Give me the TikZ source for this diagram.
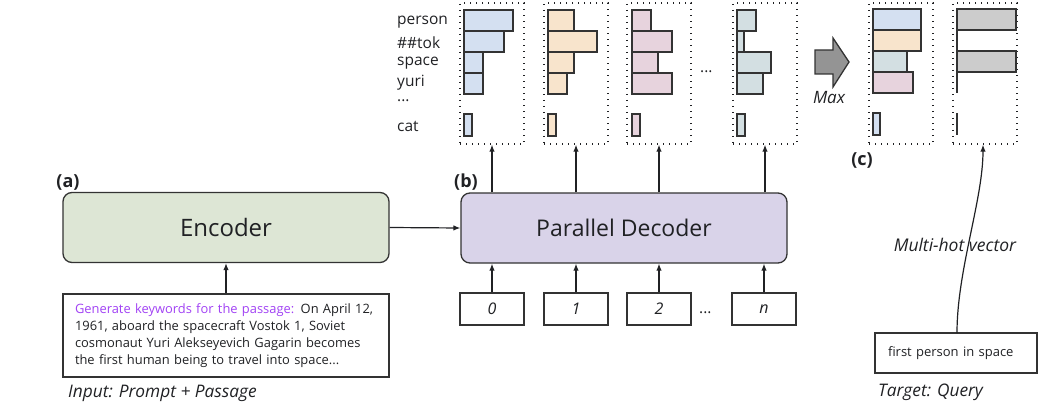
\documentclass[tikz,border=0pt]{standalone}
\usepackage{fontspec}
\setmainfont{Open Sans}
\usetikzlibrary{arrows.meta}
\definecolor{cblue}{HTML}{D4E0F1}
\definecolor{corange}{HTML}{F8E4CC}
\definecolor{cpink}{HTML}{E7D3DD}
\definecolor{cgb}{HTML}{D3DFE2}
\definecolor{cgray}{HTML}{CCCCCC}
\definecolor{cgreen}{HTML}{DDE6D5}
\definecolor{clav}{HTML}{D9D3E9}
\definecolor{cpurple}{HTML}{A142F4}
\definecolor{ctext}{HTML}{202124}
\definecolor{cedge}{HTML}{333333}
\tikzset{
  hbarr/.style={draw=cedge, line width=1.6pt},
  colbox/.style={draw=ctext, line width=1.4pt, dash pattern=on 1.4pt off 4.6pt, minimum width=64pt, minimum height=141pt, inner sep=0pt},
  mainbox/.style={draw=cedge, line width=1.3pt, rounded corners=9pt, minimum width=326pt, minimum height=70pt, text=ctext},
  numbox/.style={draw=cedge, line width=1.2pt, minimum width=64pt, minimum height=32pt, font=\fontsize{16}{18}\selectfont\itshape, text=ctext},
  arr/.style={-{Latex[length=7pt,width=5.5pt]}, line width=1.2pt, draw=ctext},
  tok/.style={anchor=west, font=\fontsize{15.5}{18}\selectfont, text=ctext, inner sep=0pt},
  lab/.style={font=\fontsize{18}{20}\selectfont\bfseries, text=ctext, inner sep=0pt},
  capt/.style={anchor=west, font=\fontsize{17.3}{19}\selectfont\itshape, text=ctext, inner sep=0pt}
}
\begin{document}
\begin{tikzpicture}[x=1pt,y=-1pt]
\useasboundingbox (0,0) rectangle (1061,420);
% token labels
\node[tok] (t1) at (397,22) {person};
\node[tok] (t2) at (397,43) {\#\#tok};
\node[tok] (t3) at (397,63) {space};
\node[tok] (t4) at (397,83) {yuri};
\node[tok] (t5) at (397,101) {...};
\node[tok] (t6) at (397,126) {cat};
% column boxes
\node[colbox] (c1) at (492,73.5) {};
\node[colbox] (c2) at (576,73.5) {};
\node[colbox] (c3) at (659,73.5) {};
\node[colbox] (c4) at (765,73.5) {};
\node[colbox] (cm) at (901,73.5) {};
\node[colbox] (ch) at (985,73.5) {};
% column 1
\draw[hbarr, fill=cblue] (464,10) rectangle (513,31);
\draw[hbarr, fill=cblue] (464,31) rectangle (504,52);
\draw[hbarr, fill=cblue] (464,52) rectangle (483,73);
\draw[hbarr, fill=cblue] (464,73) rectangle (483,94);
\draw[hbarr, fill=cblue] (464,114) rectangle (472,136);
% column 2
\draw[hbarr, fill=corange] (548,10) rectangle (574,31);
\draw[hbarr, fill=corange] (548,31) rectangle (597,52);
\draw[hbarr, fill=corange] (548,52) rectangle (574,73);
\draw[hbarr, fill=corange] (548,73) rectangle (567,94);
\draw[hbarr, fill=corange] (548,114) rectangle (556,136);
% column 3
\draw[hbarr, fill=cpink] (632,10) rectangle (651,31);
\draw[hbarr, fill=cpink] (632,31) rectangle (672,52);
\draw[hbarr, fill=cpink] (632,52) rectangle (658,73);
\draw[hbarr, fill=cpink] (632,73) rectangle (672,94);
\draw[hbarr, fill=cpink] (632,114) rectangle (640,136);
% dots
\node[tok] (dd) at (700,72) {...};
% column 4
\draw[hbarr, fill=cgb] (737,10) rectangle (756,31);
\draw[hbarr, fill=cgb] (737,31) rectangle (744,52);
\draw[hbarr, fill=cgb] (737,52) rectangle (771,73);
\draw[hbarr, fill=cgb] (737,73) rectangle (763,94);
\draw[hbarr, fill=cgb] (737,114) rectangle (745,136);
% max arrow
\draw[draw=cedge, line width=1.3pt, fill=black!42] (815,50) -- (833,50) -- (833,38) -- (849,62) -- (833,87) -- (833,74) -- (815,74) -- cycle;
\node[font=\fontsize{17}{18}\selectfont\itshape, text=ctext] (mx) at (829,98) {Max};
% max column
\draw[hbarr, fill=cblue] (873,9) rectangle (921,30);
\draw[hbarr, fill=corange] (873,30) rectangle (921,51);
\draw[hbarr, fill=cgb] (873,51) rectangle (907,72);
\draw[hbarr, fill=cpink] (873,72) rectangle (913,93);
\draw[hbarr, fill=cblue] (873,113) rectangle (880,135);
% multi-hot column
\draw[hbarr] (957,30) -- (957,93);
\draw[hbarr, fill=cgray] (957,9) rectangle (1016,30);
\draw[hbarr, fill=cgray] (957,51) rectangle (1016,72);
\draw[hbarr] (957,113) -- (957,135);
% labels
\node[lab] (la) at (68,182) {(a)};
\node[lab] (lb) at (466,182) {(b)};
\node[lab] (lc) at (862,160) {(c)};
% main boxes
\node[mainbox, fill=cgreen, font=\fontsize{24}{26}\selectfont] (enc) at (226,227.5) {Encoder};
\node[mainbox, fill=clav, font=\fontsize{23}{26}\selectfont] (dec) at (624,228) {Parallel Decoder};
% passage
\node[draw=cedge, line width=1.3pt, minimum width=326pt, minimum height=83pt, text width=302pt, align=left, inner xsep=12pt, font=\fontsize{12.9}{17}\selectfont, text=ctext] (pas) at (226,335.5)
{\textcolor{cpurple}{Generate keywords for the passage:} On April 12,\\1961, aboard the spacecraft Vostok 1, Soviet\\cosmonaut Yuri Alekseyevich Gagarin becomes\\the first human being to travel into space...};
\node[capt] (inp) at (68,393) {Input: Prompt + Passage};
% number boxes
\node[numbox] (n0) at (492,309) {0};
\node[numbox] (n1) at (576,309) {1};
\node[numbox] (n2) at (659,309) {2};
\node[numbox] (nn) at (764,309) {n};
\node[tok] (d2) at (699,313) {...};
% target
\node[draw=cedge, line width=1.2pt, minimum width=162pt, minimum height=40pt, text width=136pt, align=left, inner xsep=13pt, font=\fontsize{13}{15}\selectfont, text=ctext] (tgt) at (956,353) {first person in space};
\node[capt] (tq) at (878,392) {Target: Query};
% connectors
\draw[arr] (pas.north) -- (enc.south);
\draw[arr] (enc.east) -- (dec.west);
\draw[arr] (n0.north) -- (n0.north |- dec.south);
\draw[arr] (n1.north) -- (n1.north |- dec.south);
\draw[arr] (n2.north) -- (n2.north |- dec.south);
\draw[arr] (nn.north) -- (nn.north |- dec.south);
\draw[arr] (c1.south |- dec.north) -- (c1.south);
\draw[arr] (c2.south |- dec.north) -- (c2.south);
\draw[arr] (c3.south |- dec.north) -- (c3.south);
\draw[arr] (c4.south |- dec.north) -- (c4.south);
\coordinate (tq0) at (957,333);
\draw[arr] (tq0) .. controls (957,270) and (983,200) .. ([xshift=-2pt]ch.south);
\node[font=\fontsize{17.5}{19}\selectfont\itshape, text=ctext] (mh) at (955,245) {Multi-hot vector};
\end{tikzpicture}
\end{document}
